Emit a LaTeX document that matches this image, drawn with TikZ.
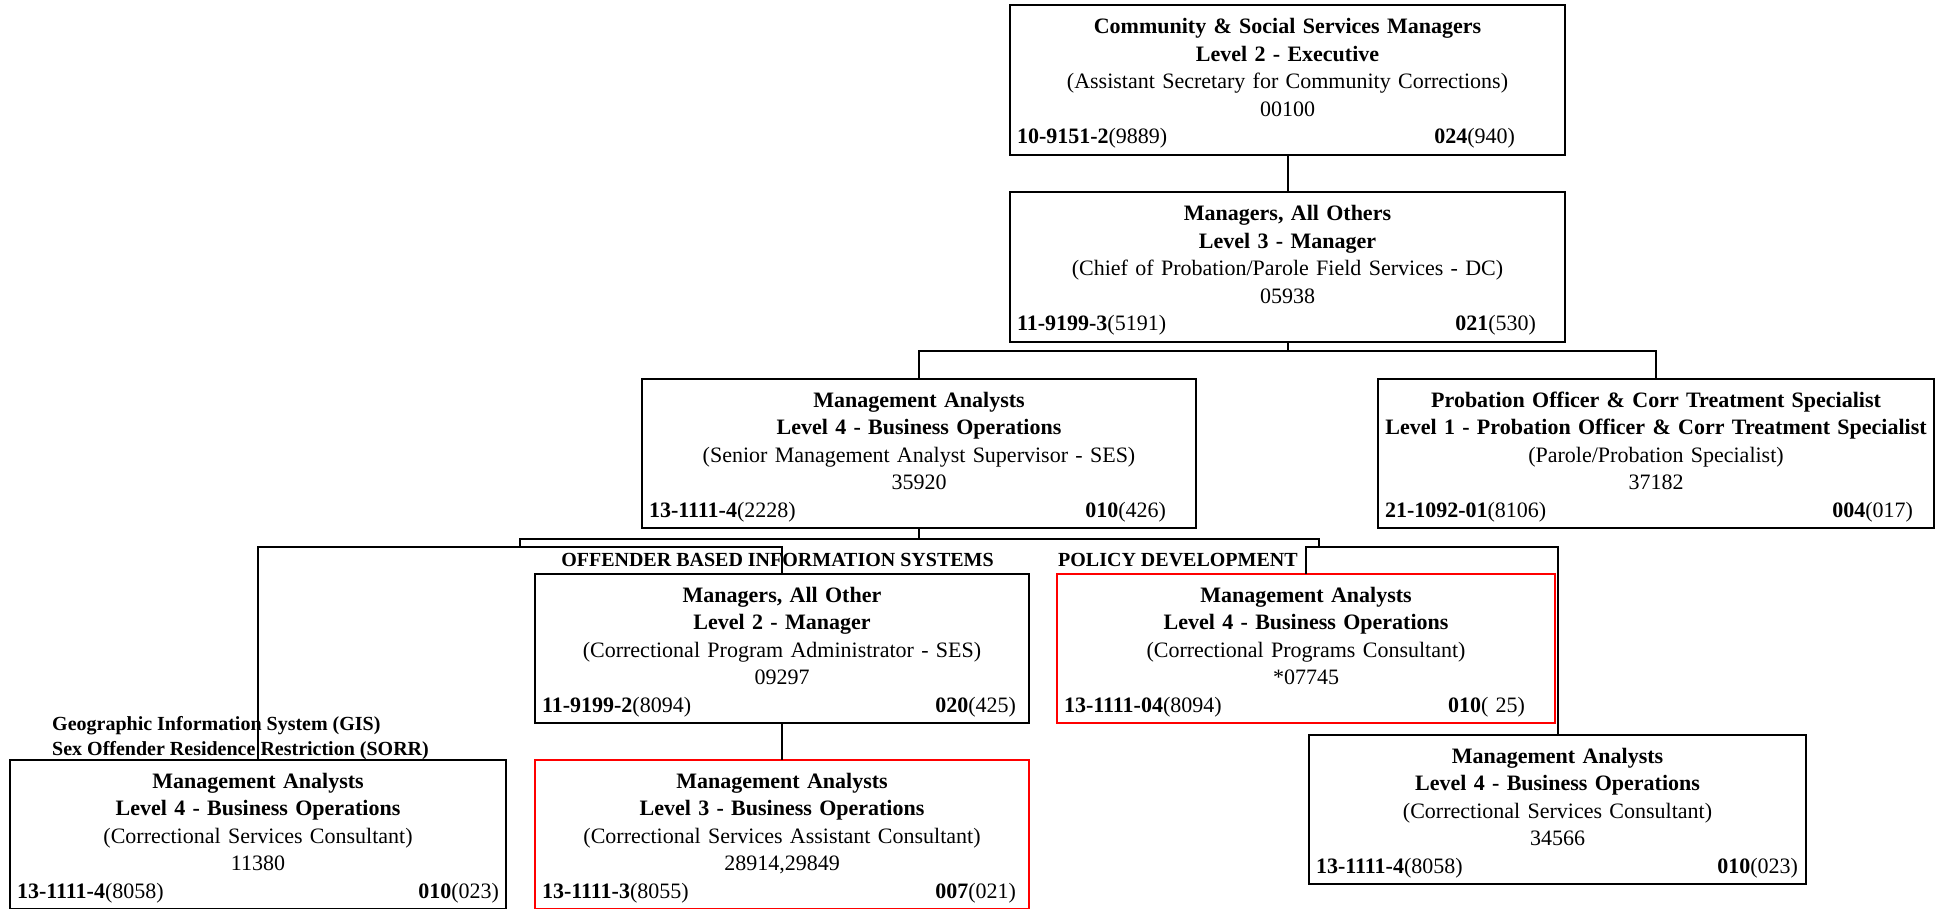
\documentclass[tikz,border=0pt]{standalone}
\usepackage{fontspec}
\setmainfont{Liberation Serif}
\newcommand\orgbox[7]{%
  \node[orgnode,#2] (#1) {\rule{0pt}{22pt}\textbf{#3}\\\textbf{#4}\\#5\\#6\\#7\rule[-5pt]{0pt}{5pt}};}
\begin{document}
\begin{tikzpicture}[x=1pt,y=-1pt,
  orgnode/.style={draw=black, line width=2.2pt, fill=white, inner xsep=7pt, inner ysep=0pt,
    outer sep=0pt, minimum height=149pt, align=center, anchor=north west,
    font=\fontsize{22}{27.5}\selectfont},
  redbox/.style={draw=red},
  conn/.style={draw=black, line width=2pt},
  lab/.style={inner sep=0pt, font=\fontsize{20}{25}\selectfont\bfseries}]
\useasboundingbox (0,0) rectangle (1942,908);

% junction coordinates
\coordinate (j1) at (1287.5,351);
\coordinate (j2) at (919,539);
\coordinate (ul) at (520,539);
\coordinate (ur) at (1319,539);
\coordinate (ll) at (520,547);
\coordinate (lr) at (1319,547);

% boxes
\orgbox{b1}{at={(1010,5)}, minimum width=555pt, text width=541pt, minimum height=150pt}{Community \& Social Services Managers}{Level 2 - Executive}
  {(Assistant Secretary for Community Corrections)}{00100}
  {\textbf{10-9151-2}(9889)\hfill\textbf{024}(940)\hspace*{43pt}}
\orgbox{b2}{at={(1010,192)}, minimum width=555pt, text width=541pt, minimum height=150pt}{Managers, All Others}{Level 3 - Manager}
  {(Chief of Probation/Parole Field Services - DC)}{05938}
  {\textbf{11-9199-3}(5191)\hfill\textbf{021}(530)\hspace*{22pt}}
\orgbox{b3}{at={(642,379)}, minimum width=554pt, text width=540pt}{Management Analysts}{Level 4 - Business Operations}
  {(Senior Management Analyst Supervisor - SES)}{35920}
  {\textbf{13-1111-4}(2228)\hfill\textbf{010}(426)\hspace*{23pt}}
\orgbox{b4}{at={(1378,379)}, minimum width=556pt, text width=542pt}{Probation Officer \& Corr Treatment Specialist}{Level 1 - Probation Officer \& Corr Treatment Specialist}
  {(Parole/Probation Specialist)}{37182}
  {\textbf{21-1092-01}(8106)\hfill\textbf{004}(017)\hspace*{14pt}}
\orgbox{b5}{at={(535,574)}, minimum width=494pt, text width=480pt}{Managers, All Other}{Level 2 - Manager}
  {(Correctional Program Administrator - SES)}{09297}
  {\textbf{11-9199-2}(8094)\hfill\textbf{020}(425)\hspace*{6pt}}
\orgbox{b6}{at={(535,760)}, redbox, minimum width=494pt, text width=480pt}{Management Analysts}{Level 3 - Business Operations}
  {(Correctional Services Assistant Consultant)}{28914,29849}
  {\textbf{13-1111-3}(8055)\hfill\textbf{007}(021)\hspace*{6pt}}
\orgbox{b7}{at={(10,760)}, minimum width=496pt, text width=482pt}{Management Analysts}{Level 4 - Business Operations}
  {(Correctional Services Consultant)}{11380}
  {\textbf{13-1111-4}(8058)\hfill\textbf{010}(023)}
\orgbox{b8}{at={(1057,574)}, redbox, minimum width=498pt, text width=484pt}{Management Analysts}{Level 4 - Business Operations}
  {(Correctional Programs Consultant)}{{*}07745}
  {\textbf{13-1111-04}(8094)\hfill\textbf{010}( 25)\hspace*{23pt}}
\orgbox{b9}{at={(1309,735)}, minimum width=497pt, text width=483pt}{Management Analysts}{Level 4 - Business Operations}
  {(Correctional Services Consultant)}{34566}
  {\textbf{13-1111-4}(8058)\hfill\textbf{010}(023)\hspace*{1pt}}

% connectors
\draw[conn] (b1.south) -- (b2.north);
\draw[conn] (b2.south) -- (j1);
\draw[conn] (b3.north) |- (j1) -| (b4.north);
\draw[conn] (b3.south) -- (j2);
\draw[conn] (ll) -- (ul) -- (ur) -- (lr);
\draw[conn] (b7.north) |- (ll) -| (b5.north);
\draw[conn] (b8.north) |- (lr) -| (b9.north);
\draw[conn] (b5.south) -- (b6.north);

% group labels
\node[lab, anchor=base] (obis) at (777.5,566) {OFFENDER BASED INFORMATION SYSTEMS};
\node[lab, anchor=base west] (pol) at (1058,566) {POLICY DEVELOPMENT};
\node[lab, anchor=base west] (gis) at (52,730) {Geographic Information System (GIS)};
\node[lab, anchor=base west] (sorr) at (52,755) {Sex Offender Residence Restriction (SORR)};
\end{tikzpicture}
\end{document}
